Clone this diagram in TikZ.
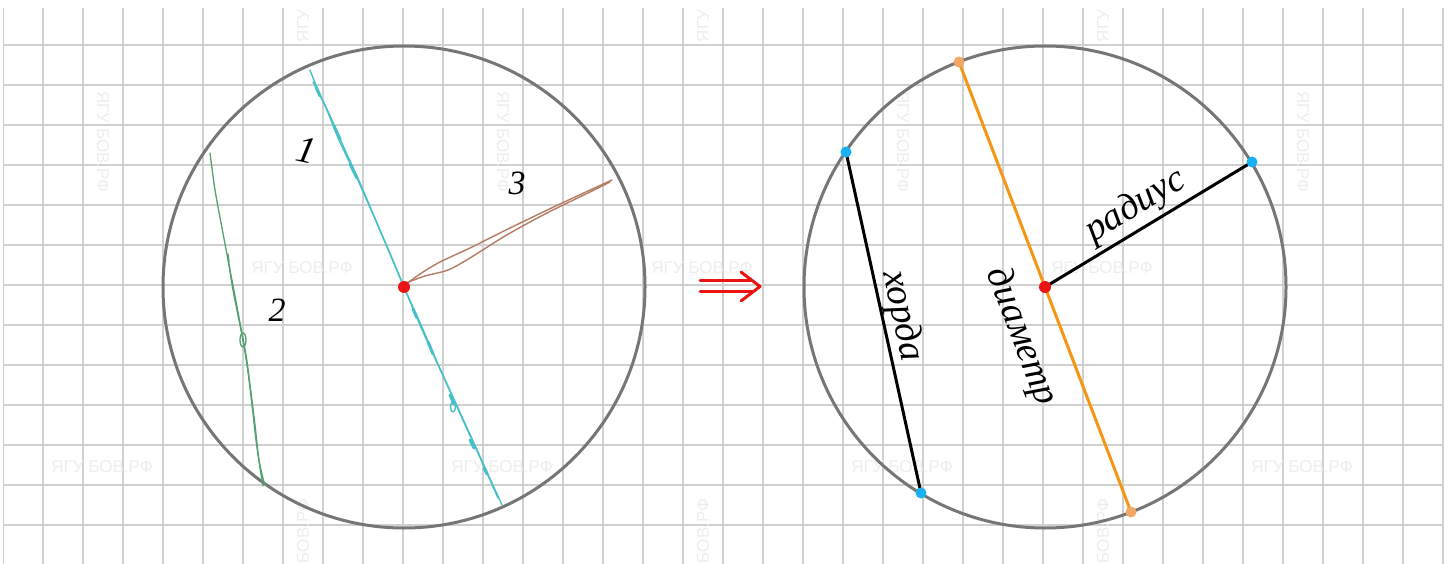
\documentclass[tikz,border=0pt]{standalone}
\usepackage{fontspec}
\setmainfont{Liberation Serif}
\newfontfamily\wmfont{Liberation Sans}
\definecolor{gridc}{RGB}{208,208,208}
\definecolor{wmc}{RGB}{238,238,238}
\definecolor{circc}{RGB}{118,118,118}
\definecolor{pencyan}{RGB}{72,192,200}
\definecolor{pengreen}{RGB}{84,160,112}
\definecolor{penbrown}{RGB}{180,124,100}
\definecolor{diamc}{RGB}{245,150,20}
\definecolor{diamdot}{RGB}{244,166,100}
\definecolor{ptblue}{RGB}{25,178,240}
\definecolor{ctrred}{RGB}{235,20,20}
\begin{document}
\begin{tikzpicture}[x=1pt,y=-1pt,
  gridline/.style={gridc,line width=1.4pt},
  wm/.style={text=wmc,font=\wmfont\fontsize{17}{17}\selectfont,inner sep=0pt},
  circ/.style={circle,draw=circc,line width=3pt,minimum size=482pt,inner sep=0pt},
  cdot/.style={circle,fill=ctrred,minimum size=12pt,inner sep=0pt},
  bdot/.style={circle,fill=ptblue,minimum size=11pt,inner sep=0pt},
  odot/.style={circle,fill=diamdot,minimum size=11pt,inner sep=0pt},
  hand/.style={font=\itshape\fontsize{34}{34}\selectfont,inner sep=0pt},
  bighand/.style={font=\itshape\fontsize{38}{38}\selectfont,inner sep=0pt},
  cyanpen/.style={pencyan,line width=1.4pt,line cap=round,line join=round},
  greenpen/.style={pengreen,line width=1.3pt,line cap=round,line join=round},
  brownpen/.style={penbrown,line width=1.4pt,line cap=round,line join=round},
  seg/.style={line width=3pt,line cap=round},
  arr/.style={ctrred,line width=3pt,line cap=round,line join=round}]
\useasboundingbox (0,0) rectangle (1452,564);
\fill[white] (0,0) rectangle (1452,564);
% grid and watermarks
\begin{scope}
\clip (3,8) rectangle (1444,564);
\foreach \i in {0,...,36} \draw[gridline] (3+40*\i,8) -- (3+40*\i,564);
\foreach \j in {1,...,13} \draw[gridline] (3,5+40*\j) -- (1444,5+40*\j);
\end{scope}
\foreach \k/\xx in {1/302,2/702,3/1102} \node[wm] (wa\k) at (\xx,268) {ЯГУ БОВ.РФ};
\foreach \k/\xx in {1/102,2/502,3/902,4/1302} \node[wm] (wb\k) at (\xx,467) {ЯГУ БОВ.РФ};
\foreach \k/\xx in {1/103,2/503,3/903,4/1303} \node[wm,rotate=-90] (wc\k) at (\xx,142) {ЯГУ БОВ.РФ};
\foreach \k/\xx in {1/303,2/703,3/1103} {
  \node[wm,rotate=90] (wd\k) at (\xx,26) {ЯГУ};
  \node[wm,rotate=90] (we\k) at (\xx,531) {БОВ.РФ};
}
% ---------------- left circle ----------------
\node[circ] (L) at (404,287) {};
\coordinate (c1a) at (310,70);
\coordinate (c1b) at (502,505);
\coordinate (g2a) at (210,153);
\coordinate (g2b) at (263,486);
\coordinate (b3b) at (612,180);
% line 1 (cyan)
\draw[cyanpen] plot[smooth] coordinates {(c1a) (318,90) (331,118) (345,150) (360,183) (379,228) (404,287) (421,325) (438,364) (458,408) (478,452) (492,483) (c1b)};
\draw[cyanpen] plot[smooth] coordinates {(313,82) (326,108) (339,140) (356,176) (372,212) (392,258) (406,292) (424,334) (444,378) (462,418) (482,462) (498,498)};
\draw[pencyan,seg] (316,87) -- (320,96);
\draw[pencyan,seg] (334,126) -- (340,139);
\draw[pencyan,seg] (350,164) -- (357,178);
\draw[pencyan,seg] (413,309) -- (417,318);
\draw[pencyan,seg] (428,342) -- (433,354);
\draw[pencyan,seg] (450,395) -- (454,404);
\draw[pencyan,seg] (470,440) -- (474,448);
\draw[pencyan,seg] (484,468) -- (487,474);
\draw[cyanpen] (453,407) ellipse (2.5 and 5);
% line 2 (green)
\draw[greenpen] plot[smooth] coordinates {(g2a) (215,190) (222,228) (230,270) (238,312) (243,340) (248,372) (252,405) (256,440) (260,468) (g2b)};
\draw[greenpen] plot[smooth] coordinates {(228,258) (233,290) (240,325) (246,355) (250,385) (255,425) (259,460) (264,482) (266,484)};
\draw[greenpen] (243,340) ellipse (3 and 7);
\draw[greenpen] (228,254) -- (229,262);
% line 3 (brown)
\draw[brownpen] plot[smooth] coordinates {(405,285) (420,274) (440,262) (470,248) (510,228) (560,204) (b3b)};
\draw[brownpen] plot[smooth] coordinates {(406,283) (425,276) (448,270) (470,258) (505,236) (545,214) (590,192) (610,182)};
\node[cdot] (Lc) at (L.center) {};
% labels
\node[bighand,rotate=-12] (n1) at (306,150) {1};
\node[hand] (n2) at (277,310) {2};
\node[hand] (n3) at (517,183) {3};
% ---------------- arrow ----------------
\coordinate (a1) at (700,281);
\coordinate (a2) at (752,281);
\coordinate (a3) at (700,292);
\coordinate (a4) at (752,292);
\coordinate (at) at (760,286.5);
\coordinate (ac1) at (741,272);
\coordinate (ac2) at (741,301);
\draw[arr] (a1) -- (a2);
\draw[arr] (a3) -- (a4);
\draw[arr] (ac1) -- (at) -- (ac2);
% ---------------- right circle ----------------
\node[circ] (R) at (1045,287) {};
\coordinate (d1) at (959,62);
\coordinate (d2) at (1131,512);
\coordinate (h1) at (846,152);
\coordinate (h2) at (921,493);
\coordinate (r1) at (1252,162);
\draw[diamc,line width=3pt] (d1) -- (d2);
\draw[black,line width=3pt] (h1) -- (h2);
\draw[black,line width=3pt] (R.center) -- (r1);
\node[odot] (D1) at (d1) {};
\node[odot] (D2) at (d2) {};
\node[bdot] (H1) at (h1) {};
\node[bdot] (H2) at (h2) {};
\node[bdot] (R1) at (r1) {};
\node[cdot] (Rc) at (R.center) {};
\node[bighand,rotate=31] (trad) at (1136,206) {радиус};
\node[bighand,rotate=-77.6] (tchord) at (902,316) {хорда};
\node[bighand,rotate=-69] (tdiam) at (1021,337) {диаметр};
\end{tikzpicture}
\end{document}
